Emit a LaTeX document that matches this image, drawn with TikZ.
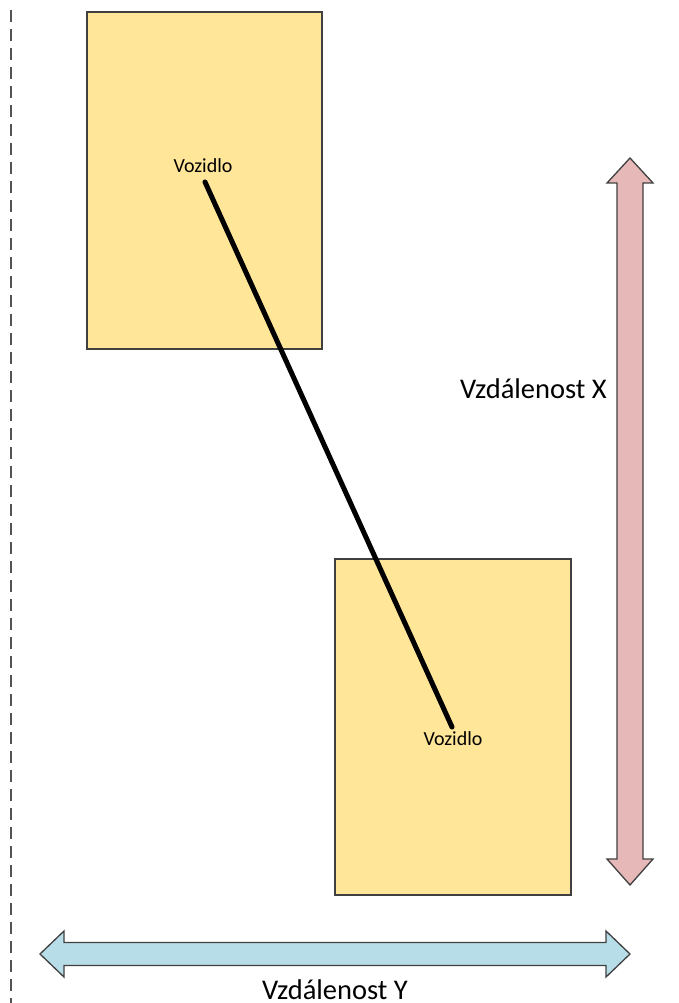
\documentclass[tikz,border=0pt]{standalone}
\usepackage{fontspec}
\setmainfont{Carlito}
\definecolor{carfill}{HTML}{FFE699}
\definecolor{xfill}{HTML}{E6B8B7}
\definecolor{yfill}{HTML}{B7DEE8}
\definecolor{edge}{HTML}{404040}
\begin{document}
\begin{tikzpicture}[x=1pt,y=-1pt,
  carbox/.style={draw=edge,line width=1.3pt,fill=carfill},
  arrowshape/.style={draw=edge,line width=1.3pt,line join=miter},
  carlabel/.style={anchor=base,inner sep=0pt,font=\fontsize{20}{24}\selectfont},
  distlabel/.style={inner sep=0pt,font=\fontsize{28.5}{32}\selectfont}]
\useasboundingbox (0,0) rectangle (679,1003);
% dashed reference line
\draw[draw=edge!90,line width=2pt,dash pattern=on 12pt off 7pt] (11,10) -- (11,1003);
% vehicles
\path[carbox] (87,12) rectangle (322,349);
\path[carbox] (335,559) rectangle (571,895);
\node[carlabel] (v1) at (203,173) {Vozidlo};
\node[carlabel] (v2) at (453,745) {Vozidlo};
\coordinate (p1) at (205,182);
\coordinate (p2) at (452,727);
\draw[line width=5pt,line cap=round] (p1) -- (p2);
% vertical distance arrow
\path[arrowshape,fill=xfill] (630,158) -- (653,183) -- (643,183) -- (643,859) -- (653,859)
  -- (630,885) -- (607,859) -- (617,859) -- (617,183) -- (607,183) -- cycle;
% horizontal distance arrow
\path[arrowshape,fill=yfill] (40,954) -- (64,931) -- (64,942.5) -- (606,942.5) -- (606,931)
  -- (630,954) -- (606,977) -- (606,965.5) -- (64,965.5) -- (64,977) -- cycle;
\node[distlabel,anchor=base east] (dx) at (607,398) {Vzdálenost X};
\node[distlabel,anchor=base] (dy) at (335,999) {Vzdálenost Y};
\end{tikzpicture}
\end{document}
